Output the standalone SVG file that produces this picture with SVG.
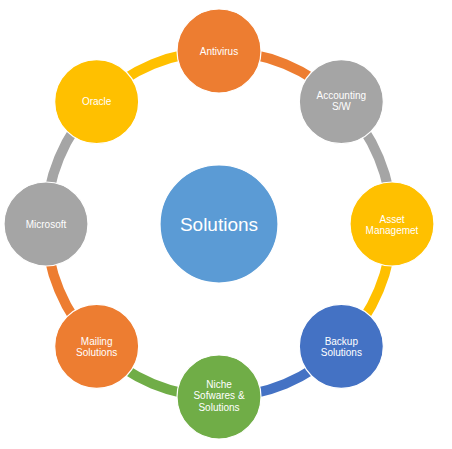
<svg xmlns="http://www.w3.org/2000/svg" width="452" height="449" viewBox="0 0 452 449">
<style>
.arc{fill:none;stroke-width:10}
.node{stroke:#fff;stroke-width:1.2}
.t{font-family:"Liberation Sans",Arial,sans-serif;font-size:10px;fill:#fff;text-anchor:middle}
.big{font-size:19px}
.orange{fill:#ED7D31}.gray{fill:#A5A5A5}.yellow{fill:#FFC000}.blue{fill:#4472C4}.green{fill:#70AD47}.center{fill:#5B9BD5}
</style>
<rect width="452" height="449" fill="#fff"/>
<g id="connectors">
<path class="arc" stroke="#ED7D31" d="M219,51 A173,173 0 0 1 341.33,101.67"/>
<path class="arc" stroke="#A5A5A5" d="M341.33,101.67 A173,173 0 0 1 392,224"/>
<path class="arc" stroke="#FFC000" d="M392,224 A173,173 0 0 1 341.33,346.33"/>
<path class="arc" stroke="#4472C4" d="M341.33,346.33 A173,173 0 0 1 219,397"/>
<path class="arc" stroke="#70AD47" d="M219,397 A173,173 0 0 1 96.67,346.33"/>
<path class="arc" stroke="#ED7D31" d="M96.67,346.33 A173,173 0 0 1 46,224"/>
<path class="arc" stroke="#A5A5A5" d="M46,224 A173,173 0 0 1 96.67,101.67"/>
<path class="arc" stroke="#FFC000" d="M96.67,101.67 A173,173 0 0 1 219,51"/>
</g>
<g id="solutions">
<circle class="node center" cx="219" cy="224" r="59"/>
<text class="t big" x="219" y="230.5">Solutions</text>
</g>
<g id="antivirus">
<circle class="node orange" cx="219" cy="51" r="42"/>
<text class="t" x="219" y="54.5">Antivirus</text>
</g>
<g id="accounting">
<circle class="node gray" cx="341.33" cy="101.67" r="42"/>
<text class="t" x="341.33" y="98.5">Accounting</text>
<text class="t" x="341.33" y="109.5">S/W</text>
</g>
<g id="asset">
<circle class="node yellow" cx="392" cy="224" r="42"/>
<text class="t" x="392" y="222.5">Asset</text>
<text class="t" x="392" y="233.5">Managemet</text>
</g>
<g id="backup">
<circle class="node blue" cx="341.33" cy="346.33" r="42"/>
<text class="t" x="341.33" y="344.5">Backup</text>
<text class="t" x="341.33" y="355.5">Solutions</text>
</g>
<g id="niche">
<circle class="node green" cx="219" cy="397" r="42"/>
<text class="t" x="219" y="387.5">Niche</text>
<text class="t" x="219" y="399">Sofwares &amp;</text>
<text class="t" x="219" y="410.5">Solutions</text>
</g>
<g id="mailing">
<circle class="node orange" cx="96.67" cy="346.33" r="42"/>
<text class="t" x="96.67" y="344.5">Mailing</text>
<text class="t" x="96.67" y="355.5">Solutions</text>
</g>
<g id="microsoft">
<circle class="node gray" cx="46" cy="224" r="42"/>
<text class="t" x="46" y="227.5">Microsoft</text>
</g>
<g id="oracle">
<circle class="node yellow" cx="96.67" cy="101.67" r="42"/>
<text class="t" x="96.67" y="105">Oracle</text>
</g>
</svg>
